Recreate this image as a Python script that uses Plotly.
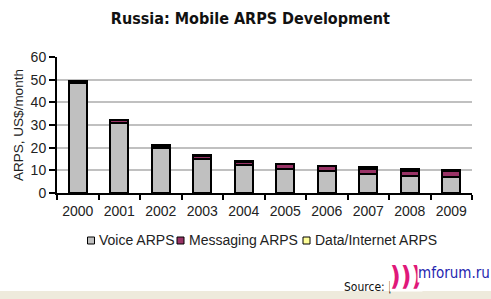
import plotly.graph_objects as go

years = ["2000", "2001", "2002", "2003", "2004", "2005", "2006", "2007", "2008", "2009"]
voice = [48.6, 31.0, 19.8, 15.0, 12.2, 10.8, 9.5, 8.3, 7.4, 7.0]
messaging = [0.4, 1.2, 1.0, 1.3, 1.5, 1.8, 2.2, 2.5, 2.5, 2.7]
data_inet = [0.2, 0.2, 0.2, 0.3, 0.3, 0.4, 0.4, 0.5, 0.5, 0.6]

series = [
    ("Voice ARPS", voice, "#C0C0C0"),
    ("Messaging ARPS", messaging, "#993366"),
    ("Data/Internet ARPS", data_inet, "#FFFF99"),
]

# plot area in pixels
L, R, T, B = 57, 472, 57, 193
W, H = R - L, B - T


def px(x):
    return (x - L) / W


def py(y):
    return (B - y) / H


fig = go.Figure()
for name, vals, col in series:
    fig.add_trace(go.Bar(
        x=years, y=vals, name=name,
        marker=dict(color=col, line=dict(color="black", width=2)),
    ))

fig.update_layout(
    barmode="stack",
    bargap=0.56,
    width=491, height=299,
    margin=dict(l=L, r=491 - R, t=T, b=299 - B),
    paper_bgcolor="white",
    plot_bgcolor="white",
    font=dict(family="Liberation Sans, Arial", size=14, color="#222"),
    title=dict(text="<b>Russia: Mobile ARPS Development</b>",
               x=0.51, xanchor="center", y=0.94, yanchor="middle",
               font=dict(family="DejaVu Sans Condensed, DejaVu Sans", size=16, color="#111")),
    showlegend=False,
    xaxis=dict(type="category", showline=True, linecolor="black", linewidth=2,
               ticks="outside", tickson="boundaries", ticklen=5, tickcolor="black",
               tickwidth=2, tickfont=dict(size=14, color="#222"), showgrid=False,
               ticklabelstandoff=4),
    yaxis=dict(range=[0, 60], dtick=10, showline=True, linecolor="black", linewidth=2,
               ticks="outside", ticklen=6, tickcolor="black", tickwidth=2,
               showgrid=True, gridcolor="#C0C0C0", gridwidth=2,
               tickfont=dict(size=14, color="#222"),
               title=dict(text="ARPS, US$/month", font=dict(size=13.5, color="#222"),
                          standoff=4),
               zeroline=False),
)

# legend drawn as small boxes + text
leg_y = 240.5
leg_items = [(87.5, 97), (177, 187), (303, 313)]
for (mx, tx), (name, vals, col) in zip(leg_items, series):
    fig.add_shape(type="rect", xref="paper", yref="paper",
                  x0=px(mx), x1=px(mx + 7), y0=py(leg_y + 3.5), y1=py(leg_y - 3.5),
                  fillcolor=col, line=dict(color="black", width=1))
    fig.add_annotation(text=name, xref="paper", yref="paper",
                       x=px(tx), y=py(leg_y), xanchor="left", yanchor="middle",
                       showarrow=False,
                       font=dict(size=14, color="#222"))

# bottom beige strip
fig.add_shape(type="rect", xref="paper", yref="paper",
              x0=px(0), x1=px(491), y0=py(299), y1=py(291),
              fillcolor="#EEEADC", line=dict(width=0), layer="below")

fig.add_annotation(text="Source: |", xref="paper", yref="paper",
                   x=px(342), y=py(287), xanchor="left", yanchor="middle",
                   showarrow=False, font=dict(family="DejaVu Sans Condensed, DejaVu Sans", size=12, color="#111"))
fig.add_annotation(text="<b>)))</b>", xref="paper", yref="paper",
                   x=px(389), y=py(276), xanchor="left", yanchor="middle",
                   showarrow=False, bgcolor="white", borderpad=0,
                   font=dict(family="DejaVu Sans Condensed, DejaVu Sans", size=26, color="#E0187A"))
fig.add_annotation(text="mforum.ru", xref="paper", yref="paper",
                   x=px(417), y=py(273), xanchor="left", yanchor="middle",
                   showarrow=False, bgcolor="white", borderpad=0,
                   font=dict(family="DejaVu Sans Condensed, DejaVu Sans", size=15, color="#2626B0"))

fig.write_html("out.html")
